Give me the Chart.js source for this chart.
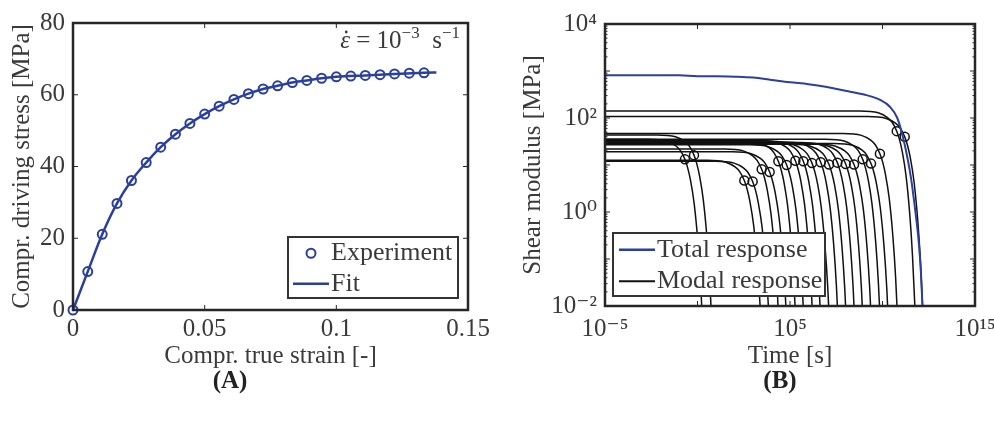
<!DOCTYPE html>
<html>
<head>
<meta charset="utf-8">
<script src="https://cdn.jsdelivr.net/npm/chart.js@4.4.1/dist/chart.umd.min.js"></script>
<style>
  body { margin: 0; background: #fff; }
  #wrap { position: relative; width: 994px; height: 426px; }
  canvas { position: absolute; top: 0; }
</style>
</head>
<body>
<div id="wrap">
  <canvas id="chartA" width="497" height="426" style="left:0"></canvas>
  <canvas id="chartB" width="497" height="426" style="left:497px"></canvas>
</div>
<script>
// ---- panel (A): compression test ----
const strainExp = [0, 0.0056, 0.0111, 0.0167, 0.0222, 0.0278, 0.0333, 0.0389, 0.0444, 0.05,
  0.0555, 0.0611, 0.0666, 0.0722, 0.0777, 0.0833, 0.0888, 0.0944, 0.1, 0.1055,
  0.111, 0.1166, 0.1221, 0.1277, 0.1333];
const stressExp = [0, 10.7, 21.1, 29.7, 36.1, 41.1, 45.4, 49.0, 52.0, 54.6,
  56.8, 58.7, 60.3, 61.6, 62.5, 63.4, 64.0, 64.6, 65.0, 65.2,
  65.4, 65.6, 65.8, 66.0, 66.1];
const strainFit = [0, 0.0056, 0.0111, 0.0167, 0.0222, 0.0278, 0.0333, 0.0389, 0.0444, 0.05,
  0.0555, 0.0611, 0.0666, 0.0722, 0.0777, 0.0833, 0.0888, 0.0944, 0.1, 0.111, 0.1221, 0.1333, 0.138];
const stressFit = [0, 10.7, 21.1, 29.7, 36.1, 41.1, 45.4, 49.0, 52.0, 54.6,
  56.8, 58.7, 60.3, 61.6, 62.5, 63.4, 64.0, 64.6, 65.0, 65.4, 65.8, 66.1, 66.2];
const strainTicks = [0, 0.05, 0.1, 0.15];
const strainLabels = ["0", "0.05", "0.1", "0.15"];
const stressTicks = [0, 20, 40, 60, 80];

// ---- panel (B): relaxation modulus (log10 values) ----
const logTimeTotal = [-5, -1, 0, 1, 2, 3, 4, 5, 6, 7, 8, 9, 9.9, 10.4, 10.8, 11.1, 11.35, 11.55, 11.78, 11.95, 12.08, 12.16, 12.22];
const logModTotal  = [2.91, 2.91, 2.89, 2.89, 2.88, 2.86, 2.81, 2.76, 2.72, 2.66, 2.58, 2.50, 2.38, 2.24, 2.0, 1.6, 1.15, 0.7, 0.0, -0.6, -1.3, -2.0, -2.5];
// relaxation time of each mode (circle) and its plateau level
const modeLogTau = [-0.68, -0.19, 2.53, 2.98, 3.47, 3.90, 4.37, 4.82, 5.29, 5.72, 6.19,
  6.66, 7.11, 7.56, 8.01, 8.46, 8.93, 9.38, 9.86, 10.77, 11.20];
const modeLogG = [1.55, 1.64, 1.10, 1.08, 1.34, 1.28, 1.51, 1.43, 1.52, 1.51, 1.47,
  1.49, 1.44, 1.48, 1.45, 1.44, 1.55, 1.46, 1.67, 2.15, 2.03];
// shape of one modal knee: decades from tau vs decades below plateau
const kneeDt   = [-2, -1, -0.5, -0.25, 0, 0.15, 0.3, 0.5, 0.7, 0.85, 1.0];
const kneeDrop = [0, -0.04, -0.14, -0.24, -0.43, -0.61, -0.87, -1.37, -2.18, -3.07, -4.34];
const timeTicks = [-5, 0, 5, 10, 15];
const timeLabels = ["10⁻⁵", "", "10⁵", "", "10¹⁵"];
const modDecades = [-2, -1, 0, 1, 2, 3, 4];
const modTicks = [-2, 0, 2, 4];
const modLabels = ["10⁻²", "10⁰", "10²", "10⁴"];

const FONT = "'Liberation Serif', 'DejaVu Serif', serif";
const BLUE = "#2b3f9f";
const INK = "#262626";
const TEXT = "#3a3a3a";
const fTick = { family: FONT, size: 25 };

const framePlugin = {
  id: 'frame',
  afterDraw(chart, args, o) {
    const { ctx, chartArea: a, scales: { x, y } } = chart;
    ctx.save();
    ctx.strokeStyle = INK;
    ctx.lineWidth = 1;
    const seg = (x1, y1, x2, y2) => { ctx.beginPath(); ctx.moveTo(x1, y1); ctx.lineTo(x2, y2); ctx.stroke(); };
    (o.xMajor || []).forEach(v => { const p = x.getPixelForValue(v); seg(p, a.bottom, p, a.bottom - 5); seg(p, a.top, p, a.top + 5); });
    (o.yMajor || []).forEach(v => { const p = y.getPixelForValue(v); seg(a.left, p, a.left + 5, p); seg(a.right, p, a.right - 5, p); });
    (o.yMinor || []).forEach(v => { const p = y.getPixelForValue(v); seg(a.left, p, a.left + 2.5, p); seg(a.right, p, a.right - 2.5, p); });
    ctx.lineWidth = 2.5;
    ctx.strokeRect(a.left, a.top, a.width, a.height);

    // legend box
    if (o.legend) {
      const L = o.legend;
      const bx = L.left != null ? a.left + L.left : a.right - L.right - L.w;
      const by = a.bottom - L.bottom - L.h;
      ctx.fillStyle = '#fff';
      ctx.fillRect(bx, by, L.w, L.h);
      ctx.lineWidth = 2;
      ctx.strokeStyle = '#333';
      ctx.strokeRect(bx, by, L.w, L.h);
      ctx.font = "26px " + FONT;
      ctx.textBaseline = 'middle';
      L.items.forEach((it, i) => {
        const cy = by + L.h * (i + 0.5) / L.items.length + 1;
        ctx.strokeStyle = it.color;
        if (it.kind === 'circle') {
          ctx.lineWidth = 2;
          ctx.beginPath(); ctx.arc(bx + L.sym + 18, cy, 4.5, 0, Math.PI * 2); ctx.stroke();
        } else {
          ctx.lineWidth = it.width;
          seg(bx + L.sym, cy, bx + L.sym + 36, cy);
        }
        ctx.fillStyle = TEXT;
        ctx.fillText(it.label, bx + L.sym + 38, cy);
      });
    }

    // rate annotation
    if (o.rate) {
      const base = a.top + 25;
      const parts = [
        ["italic 25px " + FONT, "ε", 0],
        ["25px " + FONT, " = 10", 0],
        ["17px " + FONT, "−3", -10],
        ["25px " + FONT, "  s", 0],
        ["17px " + FONT, "−1", -10]
      ];
      let w = 0;
      parts.forEach(p => { ctx.font = p[0]; w += ctx.measureText(p[1]).width; });
      let px = a.right - 8 - w;
      ctx.fillStyle = TEXT;
      ctx.textBaseline = 'alphabetic';
      parts.forEach((p, i) => {
        ctx.font = p[0];
        const tw = ctx.measureText(p[1]).width;
        ctx.fillText(p[1], px, base + p[2]);
        if (i === 0) { ctx.beginPath(); ctx.arc(px + tw * 0.62, base - 16, 1.4, 0, Math.PI * 2); ctx.fill(); }
        px += tw;
      });
    }

    // panel tag
    if (o.tag) {
      ctx.font = "bold 25px " + FONT;
      ctx.fillStyle = '#222';
      ctx.textAlign = 'center';
      ctx.textBaseline = 'middle';
      ctx.fillText(o.tag.text, o.tag.x, o.tag.y);
    }
    ctx.restore();
  }
};

const common = {
  responsive: false,
  animation: false,
  events: [],
};

// ---------- (A) ----------
new Chart(document.getElementById('chartA'), {
  type: 'scatter',
  data: {
    datasets: [
      {
        label: 'Fit',
        data: strainFit.map((s, i) => ({ x: s, y: stressFit[i] })),
        showLine: true, borderColor: BLUE, borderWidth: 2.5, pointRadius: 0,
        cubicInterpolationMode: 'monotone', order: 2
      },
      {
        label: 'Experiment',
        data: strainExp.map((s, i) => ({ x: s, y: stressExp[i] })),
        showLine: false, pointRadius: 4.5, borderWidth: 2, borderColor: BLUE,
        backgroundColor: 'rgba(0,0,0,0)', clip: false, order: 1
      }
    ]
  },
  options: {
    ...common,
    layout: { padding: { top: 23, right: 29, bottom: 54, left: 0 } },
    plugins: {
      legend: { display: false },
      tooltip: { enabled: false },
      frame: {
        xMajor: strainTicks, yMajor: stressTicks,
        legend: {
          right: 10, bottom: 12, w: 170, h: 61, sym: 5,
          items: [
            { kind: 'circle', label: 'Experiment', color: BLUE },
            { kind: 'line', label: 'Fit', color: BLUE, width: 2.5 }
          ]
        },
        rate: true,
        tag: { text: '(A)', x: 230, y: 382 }
      }
    },
    scales: {
      x: {
        type: 'linear', min: 0, max: 0.15,
        afterBuildTicks: s => { s.ticks = strainTicks.map(v => ({ value: v })); },
        afterFit: s => { s.height = 62; s.paddingLeft = 0; s.paddingRight = 0; },
        grid: { display: false, drawTicks: false }, border: { display: false },
        ticks: { font: fTick, color: TEXT, padding: 4, autoSkip: false, maxRotation: 0,
          callback: (v, i) => strainLabels[i] },
        title: { display: true, text: 'Compr. true strain [-]', font: fTick, color: TEXT, padding: { top: 0, bottom: 1 } }
      },
      y: {
        type: 'linear', min: 0, max: 80,
        afterBuildTicks: s => { s.ticks = stressTicks.map(v => ({ value: v })); },
        afterFit: s => { s.width = 73; s.paddingTop = 0; s.paddingBottom = 0; },
        grid: { display: false, drawTicks: false }, border: { display: false },
        ticks: { font: fTick, color: TEXT, padding: 8, autoSkip: false },
        title: { display: true, text: 'Compr. driving stress [MPa]', font: fTick, color: TEXT, padding: { top: 7, bottom: 0 } }
      }
    }
  },
  plugins: [framePlugin]
});

// ---------- (B) ----------
const iKnee = kneeDt.indexOf(0);
const modeSets = modeLogTau.map((tau, m) => ({
  label: 'mode ' + (m + 1),
  data: [{ x: 1e-5, y: 10 ** modeLogG[m] }].concat(
    kneeDt.map((d, i) => ({ x: 10 ** (tau + d), y: 10 ** (modeLogG[m] + kneeDrop[i]) }))),
  showLine: true, borderColor: '#111', borderWidth: 1.5, pointRadius: 0,
  cubicInterpolationMode: 'monotone', order: 3
}));
const circleSet = {
  label: 'mode tau',
  data: modeLogTau.map((tau, m) => ({ x: 10 ** tau, y: 10 ** (modeLogG[m] + kneeDrop[iKnee]) })),
  showLine: false, pointRadius: 4.5, borderWidth: 1.5, borderColor: '#111',
  backgroundColor: 'rgba(0,0,0,0)', order: 2
};
const totalSet = {
  label: 'Total response',
  data: logTimeTotal.map((t, i) => ({ x: 10 ** t, y: 10 ** logModTotal[i] })),
  showLine: true, borderColor: BLUE, borderWidth: 2, pointRadius: 0,
  cubicInterpolationMode: 'monotone', order: 1
};

new Chart(document.getElementById('chartB'), {
  type: 'scatter',
  data: { datasets: modeSets.concat([circleSet, totalSet]) },
  options: {
    ...common,
    layout: { padding: { top: 24, right: 19, bottom: 54, left: 0 } },
    plugins: {
      legend: { display: false },
      tooltip: { enabled: false },
      frame: {
        xMajor: timeTicks.map(v => 10 ** v),
        yMajor: modDecades.map(v => 10 ** v),
        yMinor: modDecades.slice(0, -1).flatMap(d => [2, 3, 4, 5, 6, 7, 8, 9].map(k => k * 10 ** d)),
        legend: {
          left: 8, bottom: 10, w: 212, h: 63, sym: 6,
          items: [
            { kind: 'line', label: 'Total response', color: BLUE, width: 2.5 },
            { kind: 'line', label: 'Modal response', color: '#111', width: 2 }
          ]
        },
        tag: { text: '(B)', x: 283, y: 382 }
      }
    },
    scales: {
      x: {
        type: 'logarithmic', min: 1e-5, max: 1e15,
        afterBuildTicks: s => { s.ticks = timeTicks.map(v => ({ value: 10 ** v })); },
        afterFit: s => { s.height = 66; s.paddingLeft = 0; s.paddingRight = 0; },
        grid: { display: false, drawTicks: false }, border: { display: false },
        ticks: { font: fTick, color: TEXT, padding: 8, autoSkip: false, maxRotation: 0,
          callback: (v, i) => timeLabels[i] },
        title: { display: true, text: 'Time [s]', font: fTick, color: TEXT, padding: { top: 0, bottom: 1 } }
      },
      y: {
        type: 'logarithmic', min: 1e-2, max: 1e4,
        afterBuildTicks: s => { s.ticks = modTicks.map(v => ({ value: 10 ** v })); },
        afterFit: s => { s.width = 108; s.paddingTop = 0; s.paddingBottom = 0; },
        grid: { display: false, drawTicks: false }, border: { display: false },
        ticks: { font: fTick, color: TEXT, padding: 8, autoSkip: false,
          callback: (v, i) => modLabels[i] },
        title: { display: true, text: 'Shear modulus [MPa]', font: fTick, color: TEXT, padding: { top: 21, bottom: 0 } }
      }
    }
  },
  plugins: [framePlugin]
});
</script>
</body>
</html>
